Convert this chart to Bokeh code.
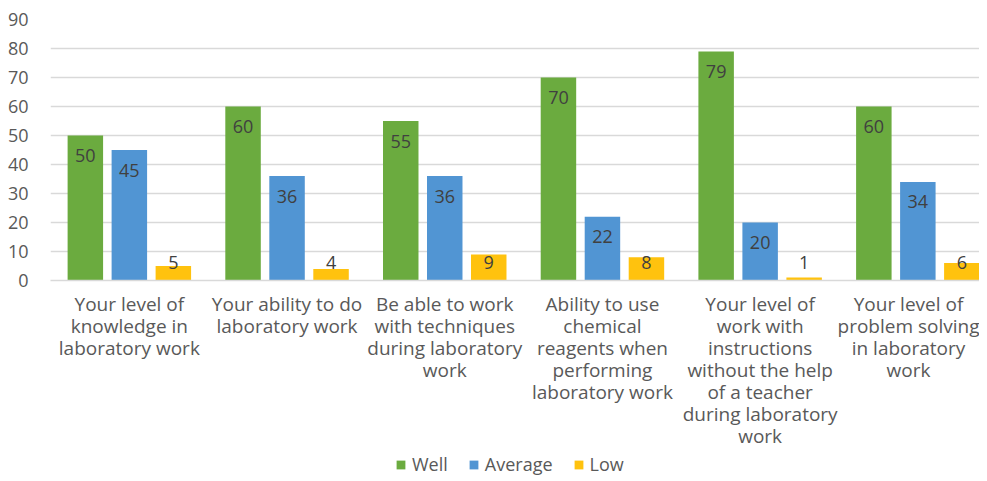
from bokeh.plotting import figure
from bokeh.layouts import column
from bokeh.models import ColumnDataSource, Legend, LegendItem, Range1d, FixedTicker
from bokeh.core.properties import value
from bokeh.embed import file_html
from bokeh.resources import INLINE

categories = [
    "Your level of\nknowledge in\nlaboratory work",
    "Your ability to do\nlaboratory work",
    "Be able to work\nwith techniques\nduring laboratory\nwork",
    "Ability to use\nchemical\nreagents when\nperforming\nlaboratory work",
    "Your level of\nwork with\ninstructions\nwithout the help\nof a teacher\nduring laboratory\nwork",
    "Your level of\nproblem solving\nin laboratory\nwork",
]
series_names = ["Well", "Average", "Low"]
well = [50, 60, 55, 70, 79, 60]
average = [45, 36, 36, 22, 20, 34]
low = [5, 4, 9, 8, 1, 6]
y_ticks = [0, 10, 20, 30, 40, 50, 60, 70, 80, 90]

colors = ["#6BAB3F", "#5195D3", "#FFC20E"]
FONT = "Open Sans"
idx = list(range(len(categories)))

p = figure(x_range=Range1d(-0.5, 5.391), y_range=Range1d(0, 90),
           width=979, height=452, output_backend="svg", toolbar_location=None,
           min_border_left=50, min_border_right=0, min_border_top=19, min_border_bottom=0)

p.outline_line_color = None
p.background_fill_color = "white"
p.border_fill_color = "white"

p.ygrid.grid_line_color = "#D9D9D9"
p.ygrid.grid_line_width = 1.5
p.xgrid.grid_line_color = None

p.yaxis.ticker = FixedTicker(ticks=y_ticks)
p.yaxis.axis_line_color = None
p.yaxis.major_tick_line_color = None
p.yaxis.minor_tick_line_color = None
p.yaxis.major_label_text_font = FONT
p.yaxis.major_label_text_font_size = "18px"
p.yaxis.major_label_text_color = "#595959"
p.yaxis.major_label_standoff = 16

p.xaxis.ticker = FixedTicker(ticks=idx)
p.xaxis.major_label_overrides = {i: c for i, c in zip(idx, categories)}
p.xaxis.axis_line_color = "#D9D9D9"
p.xaxis.axis_line_width = 1.5
p.xaxis.major_tick_line_color = None
p.xaxis.minor_tick_line_color = None
p.xaxis.major_label_text_font = FONT
p.xaxis.major_label_text_font_size = "19px"
p.xaxis.major_label_text_line_height = 0.85
p.xaxis.major_label_text_color = "#595959"
p.xaxis.major_label_standoff = 4

BAR_W = 0.225
OFF = 0.279
for vals, off, col in zip([well, average, low], [-OFF, 0.0, OFF], colors):
    ly = [v if v > 13 else 0 for v in vals]
    loff = [20 if v > 13 else -18 for v in vals]
    src = ColumnDataSource(dict(x=[i + off for i in idx], top=vals,
                                lbl=[str(v) for v in vals], ly=ly, loff=loff))
    p.vbar(x="x", top="top", width=BAR_W, source=src, fill_color=col, line_color=None)
    p.text(x="x", y="ly", text="lbl", y_offset="loff", source=src,
           text_align="center", text_baseline="middle", text_font=value(FONT),
           text_font_size="18px", text_color="#404040")

# legend strip
p2 = figure(x_range=Range1d(0, 1), y_range=Range1d(0, 1), width=979, height=27,
            output_backend="svg", toolbar_location=None, min_border=0)
p2.axis.visible = False
p2.grid.visible = False
p2.outline_line_color = None
leg_renderers = [p2.vbar(x=[0.5], top=[0], bottom=[0], width=0, fill_color=c, line_color=None)
                 for c in colors]
legend = Legend(items=[LegendItem(label=n, renderers=[r]) for n, r in zip(series_names, leg_renderers)],
                orientation="horizontal", location=(345, 3),
                label_text_font=FONT, label_text_font_size="18px", label_text_color="#595959",
                glyph_width=11, glyph_height=11, label_standoff=6, spacing=20,
                border_line_color=None, background_fill_alpha=0, padding=0, margin=0)
p2.add_layout(legend, "center")

layout = column(p, p2, spacing=0)
open("out.html", "w").write(file_html(layout, INLINE))
